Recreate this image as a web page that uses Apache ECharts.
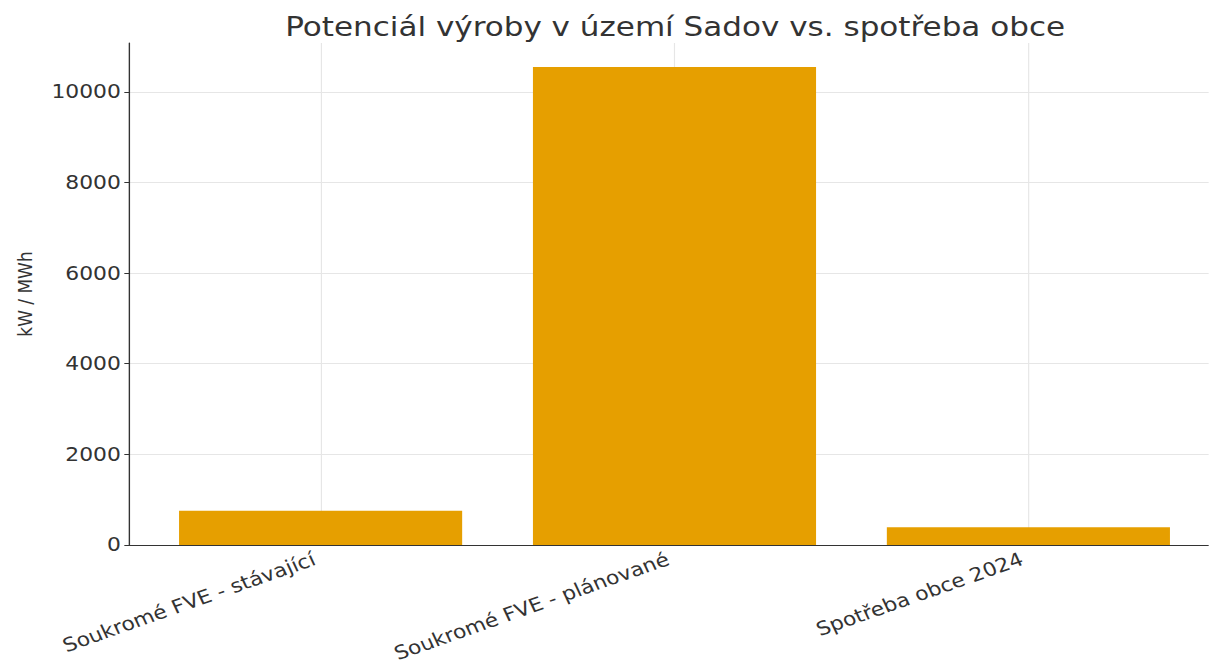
<!DOCTYPE html>
<html>
<head>
<meta charset="utf-8">
<script src="https://cdn.jsdelivr.net/npm/echarts@6/dist/echarts.min.js"></script>
<style>
  html, body { margin: 0; padding: 0; background: #ffffff; overflow: hidden; }
  #wrap { width: 1209px; height: 668px; overflow: hidden; }
  #chart { height: 668px; transform-origin: 0 0; }
</style>
</head>
<body>
<div id="wrap"><div id="chart"></div></div>
<script>
// Categories and values (kW / MWh)
const categories = ['Soukromé FVE - stávající', 'Soukromé FVE - plánované', 'Spotřeba obce 2024'];
const values = [755, 10550, 390];
const yTicks = [0, 2000, 4000, 6000, 8000, 10000];
const catPositions = [0, 1, 2];

// The figure is drawn slightly wider than tall in its text proportions
const SX = 1.15;
const W = 1209 / SX;
const chartEl = document.getElementById('chart');
chartEl.style.width = W + 'px';
chartEl.style.transform = 'scaleX(' + SX + ')';

const FONT = 'DejaVu Sans';
const TEXT = '#333333';
const AXIS = '#333333';
const GRID = '#e6e6e6';

const chart = echarts.init(chartEl, null, { renderer: 'svg', width: W, height: 668 });

const yMax = Math.max(...values) * 1.05;

chart.setOption({
  backgroundColor: '#ffffff',
  animation: false,
  title: {
    text: 'Potenciál výroby v území Sadov vs. spotřeba obce',
    left: 243,
    top: 8,
    textStyle: { fontFamily: FONT, fontSize: 27, fontWeight: 'normal', color: TEXT }
  },
  grid: {
    left: 129.5 / SX,
    top: 43,
    width: (1219.5 - 129.5) / SX,
    height: 545 - 43,
    containLabel: false,
    outerBoundsMode: 'none'
  },
  xAxis: {
    type: 'value',
    min: -0.54,
    max: 2.54,
    axisLine: { show: true, onZero: false, lineStyle: { color: AXIS, width: 1.2 } },
    axisTick: { show: true, inside: true, length: 4, customValues: catPositions, lineStyle: { color: AXIS } },
    axisLabel: {
      customValues: catPositions,
      formatter: v => categories[Math.round(v)] || '',
      rotate: 22,
      margin: 11,
      padding: [0, 6, 0, 0],
      fontFamily: FONT,
      fontSize: 19,
      color: TEXT
    },
    splitLine: { show: true, lineStyle: { color: GRID, width: 1 } }
  },
  yAxis: {
    type: 'value',
    min: 0,
    max: yMax,
    name: 'kW / MWh',
    nameLocation: 'middle',
    nameGap: 82,
    nameRotate: 90,
    nameTextStyle: { fontFamily: FONT, fontSize: 17, color: TEXT },
    axisLine: { show: true, onZero: false, lineStyle: { color: AXIS, width: 1.2 } },
    axisTick: { show: true, inside: false, length: 4.5, customValues: yTicks, lineStyle: { color: AXIS } },
    axisLabel: {
      customValues: yTicks,
      formatter: v => String(v),
      margin: 7.5,
      fontFamily: FONT,
      fontSize: 19,
      color: TEXT
    },
    splitLine: { show: true, lineStyle: { color: GRID, width: 1 } }
  },
  series: [{
    type: 'bar',
    data: values.map((v, i) => [catPositions[i], v]),
    barWidth: '80%',
    itemStyle: { color: '#E69F00' }
  }]
});
</script>
</body>
</html>
